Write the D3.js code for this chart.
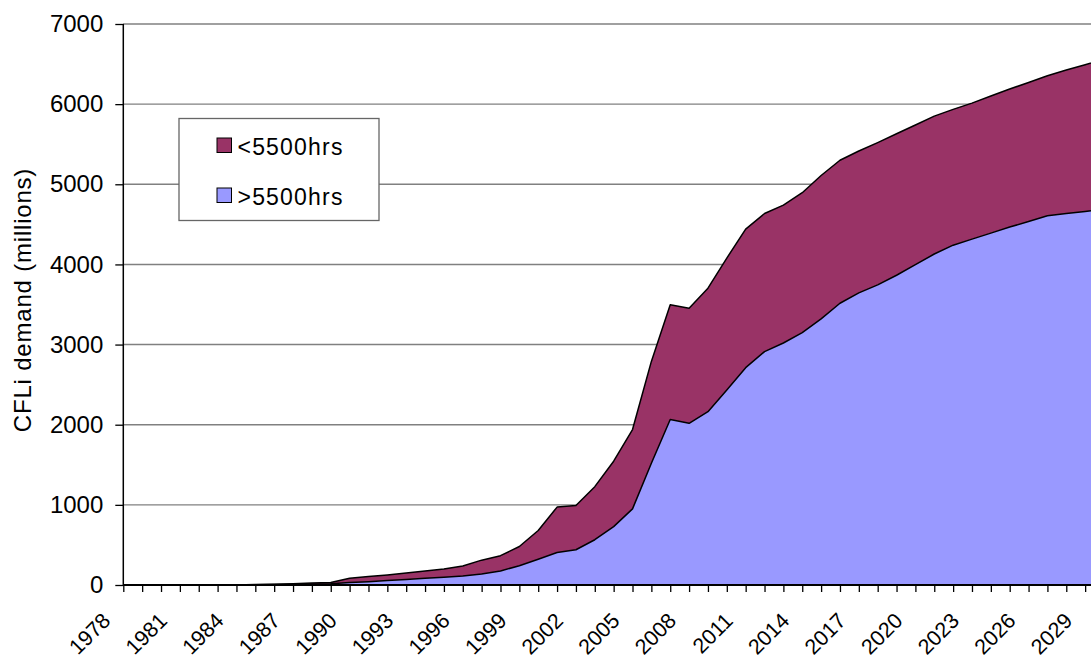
<!DOCTYPE html>
<html><head><meta charset="utf-8">
<script src="https://cdn.jsdelivr.net/npm/d3@7"></script>
<style>
body{margin:0;background:#fff}
svg{display:block;font-family:"Liberation Sans",Arial,sans-serif}
</style>
</head><body>
<svg id="chart" width="1091" height="659"></svg>
<script>
// ---- data ----
const years = [1978,1979,1980,1981,1982,1983,1984,1985,1986,1987,1988,1989,1990,1991,1992,1993,1994,1995,1996,1997,1998,1999,2000,2001,2002,2003,2004,2005,2006,2007,2008,2009,2010,2011,2012,2013,2014,2015,2016,2017,2018,2019,2020,2021,2022,2023,2024,2025,2026,2027,2028,2029,2030];
const seriesNames = ["<5500hrs", ">5500hrs"];
// >5500hrs (bottom, blue)
const above5500 = [0,0,0,0,0,0,0,2,5,8,12,15,30,40,55,70,83,96,112,137,175,241,321,405,440,565,728,950,1520,2065,2018,2163,2434,2712,2912,3020,3150,3320,3516,3645,3745,3865,3997,4130,4240,4316,4391,4466,4536,4607,4636,4661,4686];
// <5500hrs (top, purple)
const below5500 = [0,0,0,0,0,0,0,3,5,7,13,15,55,65,70,80,92,104,125,173,191,239,359,567,553,662,817,990,1270,1431,1436,1541,1645,1729,1723,1720,1745,1790,1784,1770,1775,1765,1743,1720,1695,1697,1710,1722,1735,1747,1789,1831,1872];
const yTicks = [0,1000,2000,3000,4000,5000,6000,7000];
const xLabelYears = [1978,1981,1984,1987,1990,1993,1996,1999,2002,2005,2008,2011,2014,2017,2020,2023,2026,2029];
const yTitle = "CFLi demand (millions)";
const colors = {"<5500hrs":"#993366", ">5500hrs":"#9999FF"};

// ---- chart ----
const svg = d3.select("#chart");
const x = d3.scaleLinear().domain([1978, 2030]).range([123.3, 1104]);
const y = d3.scaleLinear().domain([0, 7000]).range([585, 24]);

const table = years.map((yr, i) => ({year: yr, ">5500hrs": above5500[i], "<5500hrs": below5500[i]}));
const stack = d3.stack().keys([">5500hrs", "<5500hrs"]);
const layers = stack(table);

// gridlines
svg.append("g").selectAll("line").data(yTicks.filter(d => d > 0)).join("line")
  .attr("x1", 123).attr("x2", 1091)
  .attr("y1", d => y(d)).attr("y2", d => y(d))
  .attr("stroke", "#808080").attr("stroke-width", 1.4);

const area = d3.area().x(d => x(d.data.year)).y0(d => y(d[0])).y1(d => y(d[1]));
const topLine = d3.line().x(d => x(d.data.year)).y(d => y(d[1]));

svg.append("g").selectAll("path").data(layers).join("path")
  .attr("d", area).attr("fill", d => colors[d.key]).attr("stroke", "none");
svg.append("g").selectAll("path").data(layers).join("path")
  .attr("d", topLine).attr("fill", "none").attr("stroke", "#000").attr("stroke-width", 1.5)
  .attr("stroke-linejoin", "round");

// y axis
const yAxis = svg.append("g").attr("transform", "translate(123.3,0)")
  .call(d3.axisLeft(y).tickValues(yTicks).tickSize(8).tickPadding(12).tickFormat(d => d));
yAxis.select(".domain").attr("stroke", "#000").attr("stroke-width", 1.5).attr("d", `M0,${y(7000)}V${y(0)}`);
yAxis.selectAll(".tick line").attr("stroke", "#000").attr("stroke-width", 1.3);
yAxis.selectAll("text").attr("font-size", 24).attr("fill", "#000").attr("font-family", "Liberation Sans, Arial, sans-serif");

// x axis
const xAxis = svg.append("g").attr("transform", `translate(0,${y(0)})`)
  .call(d3.axisBottom(x).tickValues(years).tickSize(7)
    .tickFormat(d => xLabelYears.includes(d) ? String(d) : ""));
xAxis.select(".domain").attr("stroke", "#000").attr("stroke-width", 2.2).attr("d", "M123.3,0H1091");
xAxis.selectAll(".tick line").attr("stroke", "#000").attr("stroke-width", 1.3);
xAxis.selectAll("text")
  .attr("font-size", 21.5).attr("fill", "#000").attr("font-family", "Liberation Sans, Arial, sans-serif")
  .attr("x", 0).attr("y", 0).attr("dy", null)
  .attr("text-anchor", "end")
  .attr("transform", "translate(-12,37) rotate(-45)");

// y title
svg.append("text").text(yTitle)
  .attr("transform", "translate(31,300) rotate(-90)")
  .attr("text-anchor", "middle").attr("font-size", 24).attr("letter-spacing", 0.8).attr("fill", "#000");

// legend
const lg = svg.append("g");
lg.append("rect").attr("x", 179).attr("y", 118.5).attr("width", 200).attr("height", 102)
  .attr("fill", "#fff").attr("stroke", "#666").attr("stroke-width", 1.3);
const items = lg.selectAll("g.item").data(seriesNames).join("g").attr("class", "item")
  .attr("transform", (d, i) => `translate(217,${138 + i * 50})`);
items.append("rect").attr("width", 14.5).attr("height", 14.5)
  .attr("fill", d => colors[d]).attr("stroke", "#000").attr("stroke-width", 1);
items.append("text").text(d => d).attr("x", 20.5).attr("y", 16.5)
  .attr("font-size", 23).attr("letter-spacing", 1.2).attr("fill", "#000");
</script>
</body></html>
